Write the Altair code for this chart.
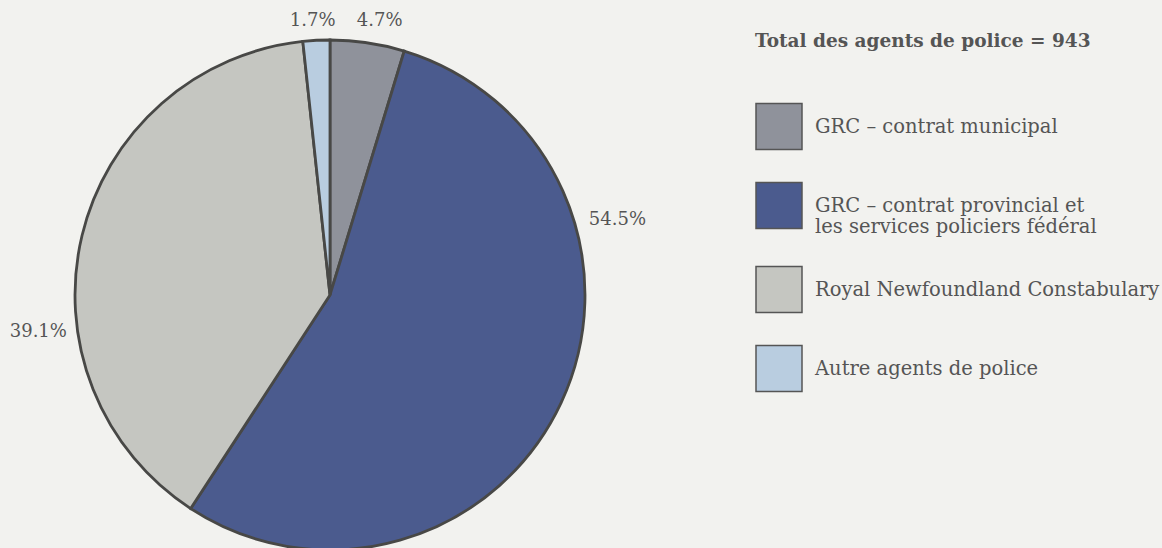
import altair as alt
import pandas as pd

# ---- data ----
categories = [
    "GRC – contrat municipal",
    "GRC – contrat provincial et les services policiers fédéral",
    "Royal Newfoundland Constabulary",
    "Autre agents de police",
]
shares = [4.7, 54.5, 39.1, 1.7]
share_labels = ["4.7%", "54.5%", "39.1%", "1.7%"]
total_title = "Total des agents de police = 943"

# ---- layout / style ----
colors = ["#8f929b", "#4b5b8e", "#c5c6c1", "#b9cde0"]
label_angle = [10.3, 75.4, 262.8, 356.4]   # degrees, clockwise from 12 o'clock
label_radius = [278, 297, 294, 275]
FONT = "DejaVu Serif"
CX, CY, R = 330, 295, 255

df = pd.DataFrame({
    "category": categories,
    "share": shares,
    "label": share_labels,
    "idx": list(range(len(categories))),
    "lang": label_angle,
    "lrad": label_radius,
})

label_expr = (
    "datum.label == 'GRC – contrat provincial et les services policiers fédéral'"
    " ? ['GRC – contrat provincial et', 'les services policiers fédéral'] : datum.label"
)

base = alt.Chart(df)

pie = base.mark_arc(outerRadius=R, stroke="#484846", strokeWidth=2.8).encode(
    theta=alt.Theta("share:Q", stack=True),
    order=alt.Order("idx:Q"),
    color=alt.Color(
        "category:N",
        scale=alt.Scale(domain=categories, range=colors),
        sort=categories,
        legend=alt.Legend(
            title=total_title,
            orient="none",
            legendX=755,
            legendY=32,
            direction="vertical",
            symbolType="square",
            symbolSize=2116,
            symbolStrokeColor="#555555",
            symbolStrokeWidth=1.5,
            symbolOpacity=1,
            labelFont=FONT,
            labelFontSize=19.5,
            labelColor="#555555",
            labelOffset=12,
            labelLimit=450,
            labelExpr=label_expr,
            titleFont=FONT,
            titleFontSize=18.5,
            titleFontWeight="bold",
            titleColor="#555555",
            titlePadding=52,
            titleLimit=450,
            rowPadding=27,
            padding=0,
        ),
    ),
    x=alt.value(CX),
    y=alt.value(CY),
)

text = base.mark_text(
    font=FONT, fontSize=18, color="#555555", align="center", baseline="middle"
).encode(
    theta=alt.Theta("lang:Q", scale=alt.Scale(domain=[0, 360]), stack=False),
    radius=alt.Radius("lrad:Q", scale=None),
    text="label:N",
    x=alt.value(CX),
    y=alt.value(CY),
)

chart = (
    alt.layer(pie, text)
    .resolve_scale(theta="independent")
    .properties(width=1162, height=548, autosize="none", padding=0, background="#f2f2ef")
    .configure_view(stroke=None)
)

chart.save("out.html", embed_options={"renderer": "svg", "actions": False})
